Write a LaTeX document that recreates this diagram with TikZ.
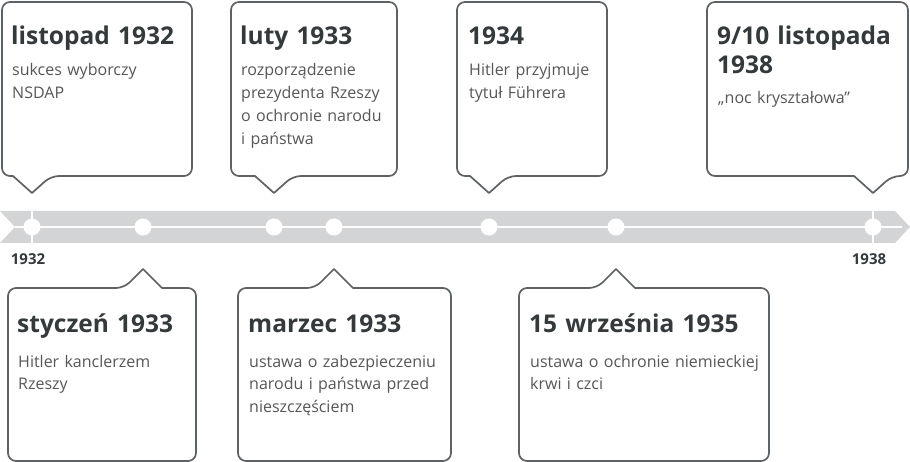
\documentclass[tikz,border=0pt]{standalone}
\usepackage{fontspec}
\setmainfont{Open Sans}
\usetikzlibrary{calc}
\definecolor{bandc}{HTML}{D3D4D5}
\definecolor{boxline}{HTML}{5E6264}
\definecolor{headc}{HTML}{343A3C}
\definecolor{bodyc}{HTML}{575757}
\tikzset{
  callout/.style={draw=boxline, line width=1.7pt, fill=white, line join=round},
  head/.style={font=\bfseries\fontsize{24.5}{29}\selectfont, text=headc, anchor=base west,
    inner sep=0pt, align=left, text width=260pt},
  body/.style={font=\fontsize{16}{22.8}\selectfont, text=bodyc, anchor=base west,
    inner sep=0pt, align=left, text width=260pt},
  year/.style={font=\bfseries\fontsize{15}{18}\selectfont, text=headc, anchor=base, inner sep=0pt},
  dot/.style={circle, fill=white, inner sep=0pt, minimum size=17pt},
  tick/.style={draw=white, line width=2pt},
}
\newcommand\mytopbox[4]{%
  \draw[callout] ([yshift=34pt]#4.center) coordinate (tip#4) -- ++(-19,-17)
    [rounded corners=8pt] -- (#1,176) -- (#1,#3) -- (#2,#3) -- (#2,176)
    -- ($(tip#4)+(19,-17)$) [sharp corners] -- cycle;}
\newcommand\mybotbox[4]{%
  \draw[callout] ([yshift=-42pt]#4.center) coordinate (tip#4) -- ++(19,19)
    [rounded corners=8pt] -- (#2,288) -- (#2,#3) -- (#1,#3) -- (#1,288)
    -- ($(tip#4)+(-19,19)$) [sharp corners] -- cycle;}
\begin{document}
\begin{tikzpicture}[x=1pt,y=-1pt]
\useasboundingbox (0,0) rectangle (910,462);
% band
\fill[bandc] (0,211) -- (895,211) -- (910,227) -- (895,243) -- (0,243) -- (15,227) -- cycle;
\draw[tick] (15,227) -- (902,227);
\draw[tick] (32,211) -- (32,243);
\draw[tick] (873,211) -- (873,243);
% dots
\node[dot] (d1) at (32,227) {};
\node[dot] (d2) at (143,227) {};
\node[dot] (d3) at (274,227) {};
\node[dot] (d4) at (334,227) {};
\node[dot] (d5) at (489,227) {};
\node[dot] (d6) at (616,227) {};
\node[dot] (d7) at (873,227) {};
% years
\node[year] (y1932) at (28,265) {1932};
\node[year] (y1938) at (869,265) {1938};
% top boxes
\mytopbox{2}{192}{2}{d1}
\node[head] (h1) at (11,45) {listopad 1932};
\node[body] (b1) at (12,76) {sukces wyborczy\\NSDAP};
\mytopbox{231}{397}{2}{d3}
\node[head] (h2) at (240,45) {luty 1933};
\node[body] (b2) at (241,76) {rozporządzenie\\prezydenta Rzeszy\\o ochronie narodu\\i państwa};
\mytopbox{457}{607}{2}{d5}
\node[head] (h3) at (468,45) {1934};
\node[body] (b3) at (469,76) {Hitler przyjmuje\\tytuł Führera};
\mytopbox{707}{908}{2}{d7}
\node[head] (h4) at (717,45) {9/10 listopada\\1938};
\node[body] (b4) at (718,104) {„noc kryształowa”};
% bottom boxes
\mybotbox{8}{196}{461}{d2}
\node[head] (h5) at (17,332) {styczeń 1933};
\node[body] (b5) at (18,367) {Hitler kanclerzem\\Rzeszy};
\mybotbox{238}{451}{461}{d4}
\node[head] (h6) at (248,332) {marzec 1933};
\node[body] (b6) at (249,367) {ustawa o zabezpieczeniu\\narodu i państwa przed\\nieszczęściem};
\mybotbox{519}{769}{461}{d6}
\node[head] (h7) at (529,332) {15 września 1935};
\node[body] (b7) at (530,367) {ustawa o ochronie niemieckiej\\krwi i czci};
\end{tikzpicture}
\end{document}
